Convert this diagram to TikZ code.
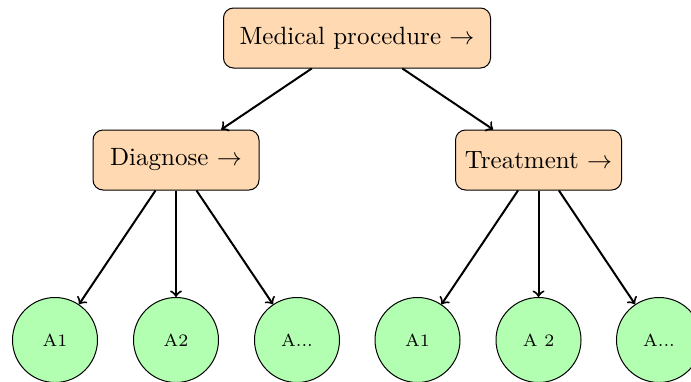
\documentclass[tikz,border=0pt]{standalone}
\usetikzlibrary{arrows}
\begin{document}
\begin{tikzpicture}[x=0.4pt,y=-0.4pt,
  procbox/.style={draw,thin,fill=orange!30,rounded corners=4pt,minimum width=66.4pt,minimum height=24pt,inner xsep=2.8pt,inner ysep=5pt,font=\normalsize},
  leaf/.style={draw,thin,circle,fill=green!30,minimum size=34pt,inner sep=0pt,font=\scriptsize},
  link/.style={->,thick}]
\useasboundingbox (0,0) rectangle (691,381);
\node[procbox,minimum width=106.8pt] (root) at (357,38) {Medical procedure $\rightarrow$};
\node[procbox] (diag) at (176,160) {Diagnose $\rightarrow$};
\node[procbox] (treat) at (538.5,160) {Treatment $\rightarrow$};
\node[leaf] (d1) at (55,340) {A1};
\node[leaf] (d2) at (176,340) {A2};
\node[leaf] (d3) at (297,340) {A...};
\node[leaf] (t1) at (417.5,340) {A1};
\node[leaf] (t2) at (538.5,340) {A 2};
\node[leaf] (t3) at (659,340) {A...};
\draw[link] (root) -- (diag);
\draw[link] (root) -- (treat);
\draw[link] (diag) -- (d1);
\draw[link] (diag) -- (d2);
\draw[link] (diag) -- (d3);
\draw[link] (treat) -- (t1);
\draw[link] (treat) -- (t2);
\draw[link] (treat) -- (t3);
\end{tikzpicture}
\end{document}
